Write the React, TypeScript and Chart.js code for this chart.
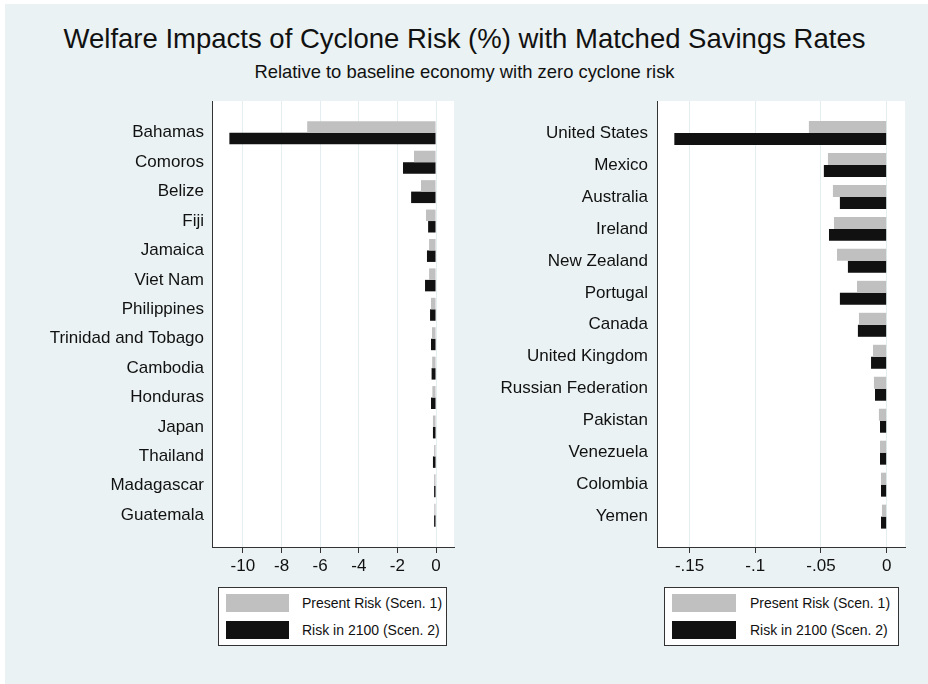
import React, { useEffect, useRef } from "react";
import { Chart, registerables } from "chart.js";

Chart.register(...registerables);

const FONT = '"Liberation Sans", Arial, Helvetica, sans-serif';
const BG = "#eaf2f3";
const GRID = "#e4eef0";
const AXIS = "#333333";
const GRAY = "#c0c0c0";
const BLACK = "#111111";

const SERIES_LABELS = ["Present Risk (Scen. 1)", "Risk in 2100 (Scen. 2)"];

// Left panel
const leftCountries = [
  "Bahamas", "Comoros", "Belize", "Fiji", "Jamaica", "Viet Nam", "Philippines",
  "Trinidad and Tobago", "Cambodia", "Honduras", "Japan", "Thailand", "Madagascar", "Guatemala",
];
const leftPresent = [-6.67, -1.14, -0.78, -0.52, -0.36, -0.36, -0.26, -0.21, -0.2, -0.19, -0.16, -0.1, -0.1, -0.09];
const leftFuture = [-10.7, -1.71, -1.29, -0.41, -0.47, -0.57, -0.31, -0.26, -0.23, -0.26, -0.16, -0.16, -0.1, -0.1];
const leftTicks = [-10, -8, -6, -4, -2, 0];
const leftTickLabels = ["-10", "-8", "-6", "-4", "-2", "0"];

// Right panel
const rightCountries = [
  "United States", "Mexico", "Australia", "Ireland", "New Zealand", "Portugal", "Canada",
  "United Kingdom", "Russian Federation", "Pakistan", "Venezuela", "Colombia", "Yemen",
];
const rightPresent = [-0.0592, -0.0447, -0.0409, -0.0401, -0.0378, -0.0226, -0.0211, -0.0104, -0.0097, -0.0059, -0.0051, -0.0043, -0.0036];
const rightFuture = [-0.1616, -0.0478, -0.0356, -0.0439, -0.0295, -0.0356, -0.0219, -0.0119, -0.0089, -0.0051, -0.0051, -0.0043, -0.0043];
const rightTicks = [-0.15, -0.1, -0.05, 0];
const rightTickLabels = ["-.15", "-.1", "-.05", "0"];

const plotBg = {
  id: "plotBg",
  beforeDraw(chart: any) {
    const { ctx, chartArea } = chart;
    ctx.save();
    ctx.fillStyle = "#ffffff";
    ctx.fillRect(chartArea.left, chartArea.top, chartArea.right - chartArea.left, chartArea.bottom - chartArea.top);
    ctx.restore();
  },
};

type PanelProps = {
  left: number;
  width: number;
  height: number;
  countries: string[];
  present: number[];
  future: number[];
  xMin: number;
  xMax: number;
  ticks: number[];
  tickLabels: string[];
  yMin: number;
  yMax: number;
  yAxisWidth: number;
  padRight: number;
  catPct: number;
  labelPad: number;
};

function Panel(p: PanelProps) {
  const ref = useRef<HTMLCanvasElement | null>(null);
  useEffect(() => {
    if (!ref.current) return;
    const chart = new Chart(ref.current, {
      type: "bar",
      data: {
        datasets: [
          {
            label: SERIES_LABELS[0],
            data: p.countries.map((_, i) => ({ x: p.present[i], y: i })),
            backgroundColor: GRAY,
            borderWidth: 0,
          },
          {
            label: SERIES_LABELS[1],
            data: p.countries.map((_, i) => ({ x: p.future[i], y: i })),
            backgroundColor: BLACK,
            borderWidth: 0,
          },
        ],
      } as any,
      options: {
        indexAxis: "y",
        responsive: false,
        animation: false,
        categoryPercentage: p.catPct,
        barPercentage: 1,
        layout: { padding: { top: 101, right: p.padRight, left: 0, bottom: 0 } },
        plugins: { legend: { display: false }, tooltip: { enabled: false }, title: { display: false } },
        scales: {
          x: {
            type: "linear",
            position: "bottom",
            min: p.xMin,
            max: p.xMax,
            offset: false,
            afterBuildTicks: (s: any) => {
              s.ticks = p.ticks.map((v) => ({ value: v }));
            },
            afterFit: (s: any) => {
              s.height = 53;
            },
            ticks: {
              callback: (_v: any, i: number) => p.tickLabels[i],
              font: { family: FONT, size: 17 },
              color: "#111111",
              padding: 3,
              autoSkip: false,
              maxRotation: 0,
            },
            grid: { color: GRID, lineWidth: 1, drawTicks: true, tickLength: 6, tickColor: AXIS, offset: false },
            border: { display: true, color: AXIS, width: 1 },
          },
          y: {
            type: "linear",
            min: p.yMin,
            max: p.yMax,
            reverse: true,
            offset: false,
            afterBuildTicks: (s: any) => {
              s.ticks = p.countries.map((_, i) => ({ value: i }));
            },
            afterFit: (s: any) => {
              s.width = p.yAxisWidth;
            },
            ticks: {
              callback: (_v: any, i: number) => p.countries[i],
              font: { family: FONT, size: 17 },
              color: "#111111",
              padding: p.labelPad,
              autoSkip: false,
            },
            grid: { display: false, drawTicks: false, offset: false },
            border: { display: true, color: AXIS, width: 1 },
          },
        },
      } as any,
      plugins: [plotBg],
    });
    return () => chart.destroy();
  }, []);
  return (
    <canvas
      ref={ref}
      width={p.width}
      height={p.height}
      style={{ position: "absolute", left: p.left, top: 0, width: p.width, height: p.height }}
    />
  );
}

function Legend({ left, width, textOffset, swatchW }: { left: number; width: number; textOffset: number; swatchW: number }) {
  const row = (top: number, color: string, label: string) => (
    <div key={label}>
      <div style={{ position: "absolute", left: 7, top, width: swatchW, height: 18, background: color }} />
      <div
        style={{
          position: "absolute",
          left: textOffset,
          top: top - 1,
          height: 20,
          lineHeight: "20px",
          fontFamily: FONT,
          fontSize: 14,
          color: "#111",
          whiteSpace: "nowrap",
        }}
      >
        {label}
      </div>
    </div>
  );
  return (
    <div
      style={{
        position: "absolute",
        left,
        top: 587,
        width,
        height: 59,
        boxSizing: "border-box",
        border: "1px solid #333",
        background: "#fff",
      }}
    >
      {row(6, GRAY, SERIES_LABELS[0])}
      {row(33, BLACK, SERIES_LABELS[1])}
    </div>
  );
}

export default function App() {
  return (
    <div style={{ position: "absolute", left: 0, top: 0, width: 928, height: 684, background: "#fff", overflow: "hidden" }}>
      <div style={{ position: "absolute", left: 5, top: 4, width: 923, height: 680, background: BG }} />
      <div
        style={{
          position: "absolute",
          left: 0,
          top: 25,
          width: 929,
          textAlign: "center",
          fontFamily: FONT,
          fontSize: 27.5,
          lineHeight: "27.5px",
          color: "#111",
          whiteSpace: "nowrap",
        }}
      >
        Welfare Impacts of Cyclone Risk (%) with Matched Savings Rates
      </div>
      <div
        style={{
          position: "absolute",
          left: 0,
          top: 63,
          width: 929,
          textAlign: "center",
          fontFamily: FONT,
          fontSize: 18.4,
          lineHeight: "18.4px",
          color: "#111",
          whiteSpace: "nowrap",
        }}
      >
        Relative to baseline economy with zero cyclone risk
      </div>
      <Panel
        left={0}
        width={470}
        height={600}
        countries={leftCountries}
        present={leftPresent}
        future={leftFuture}
        xMin={-11.6}
        xMax={0.93}
        ticks={leftTicks}
        tickLabels={leftTickLabels}
        yMin={-1.08}
        yMax={14.08}
        yAxisWidth={212}
        padRight={16}
        catPct={0.78}
        labelPad={8}
      />
      <Panel
        left={470}
        width={458}
        height={600}
        countries={rightCountries}
        present={rightPresent}
        future={rightFuture}
        xMin={-0.1748}
        xMax={0.01395}
        ticks={rightTicks}
        tickLabels={rightTickLabels}
        yMin={-1.0}
        yMax={12.95}
        yAxisWidth={187}
        padRight={23}
        catPct={0.75}
        labelPad={9}
      />
      <Legend left={218} width={229} textOffset={83} swatchW={63} />
      <Legend left={664} width={235} textOffset={85} swatchW={64} />
    </div>
  );
}
